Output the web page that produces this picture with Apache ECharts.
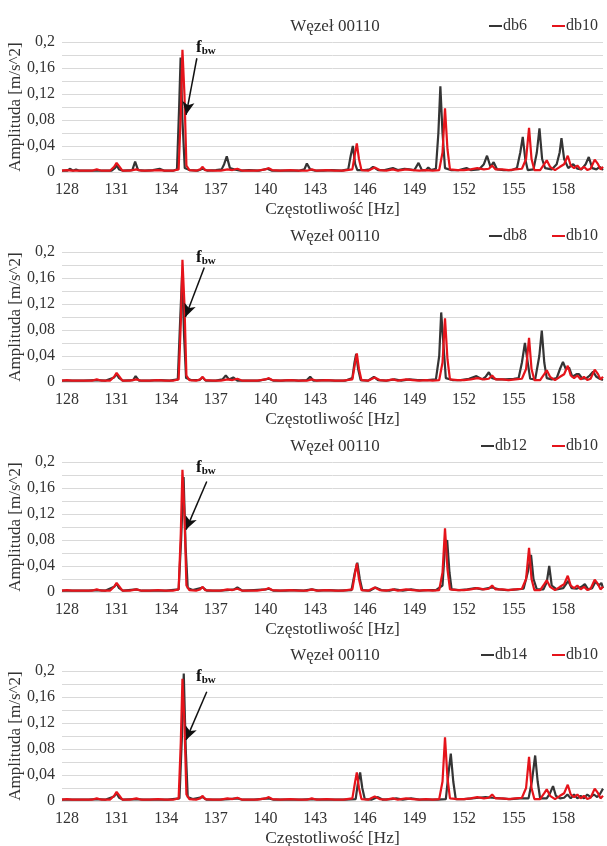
<!DOCTYPE html>
<html>
<head>
<meta charset="utf-8">
<script src="https://cdn.jsdelivr.net/npm/echarts@6/dist/echarts.min.js"></script>
<style>
  html, body { margin: 0; padding: 0; background: #fff; }
  #chart { width: 607px; height: 846px; }
</style>
</head>
<body>
<div id="chart"></div>
<script>
// widmo amplitudy, wezel 00110 - pary [czestotliwosc Hz, amplituda m/s^2]
var db10 = [[127.7,0.002],[128.0,0.003],[128.3,0.002],[128.7,0.002],[129.1,0.002],[129.5,0.002],[129.8,0.004],[130.1,0.002],[130.6,0.002],[130.85,0.008],[131.0,0.014],[131.15,0.009],[131.35,0.002],[131.8,0.002],[132.2,0.004],[132.5,0.002],[133.0,0.002],[133.5,0.003],[133.9,0.002],[134.4,0.002],[134.75,0.004],[134.88,0.09],[134.98,0.188],[135.1,0.12],[135.22,0.01],[135.4,0.003],[135.8,0.002],[136.05,0.004],[136.2,0.008],[136.35,0.003],[136.8,0.002],[137.3,0.002],[137.7,0.004],[138.0,0.003],[138.3,0.005],[138.6,0.002],[139.0,0.002],[139.5,0.002],[140.0,0.004],[140.2,0.006],[140.4,0.003],[140.9,0.002],[141.5,0.003],[142.0,0.002],[142.5,0.002],[142.8,0.004],[143.1,0.002],[143.7,0.003],[144.2,0.002],[144.7,0.002],[145.25,0.004],[145.42,0.03],[145.52,0.044],[145.65,0.02],[145.8,0.003],[146.2,0.002],[146.6,0.007],[146.9,0.003],[147.3,0.002],[147.7,0.004],[148.0,0.002],[148.5,0.004],[148.9,0.003],[149.3,0.002],[149.7,0.003],[150.1,0.002],[150.5,0.003],[150.7,0.03],[150.85,0.098],[151.0,0.035],[151.15,0.004],[151.6,0.003],[152.0,0.003],[152.4,0.004],[152.8,0.006],[153.2,0.004],[153.5,0.005],[153.7,0.01],[153.9,0.004],[154.3,0.004],[154.7,0.003],[155.1,0.004],[155.5,0.005],[155.75,0.02],[155.93,0.068],[156.08,0.02],[156.25,0.003],[156.6,0.003],[156.85,0.012],[157.0,0.018],[157.2,0.008],[157.5,0.003],[157.8,0.008],[158.05,0.012],[158.27,0.025],[158.45,0.01],[158.65,0.006],[158.85,0.01],[159.05,0.004],[159.25,0.008],[159.45,0.003],[159.65,0.005],[159.9,0.019],[160.1,0.012],[160.25,0.004],[160.4,0.008]];

var db6 = [[127.7,0.002],[128.0,0.002],[128.2,0.005],[128.35,0.002],[128.55,0.004],[128.75,0.002],[129.2,0.002],[129.7,0.002],[130.2,0.002],[130.7,0.002],[130.9,0.006],[131.0,0.01],[131.15,0.004],[131.4,0.002],[131.95,0.003],[132.12,0.016],[132.3,0.003],[132.7,0.002],[133.2,0.003],[133.6,0.005],[133.9,0.002],[134.4,0.002],[134.65,0.004],[134.78,0.1],[134.87,0.176],[134.98,0.08],[135.12,0.006],[135.4,0.003],[135.9,0.002],[136.2,0.005],[136.5,0.002],[137.0,0.003],[137.35,0.004],[137.5,0.012],[137.66,0.024],[137.85,0.006],[138.1,0.004],[138.5,0.002],[139.0,0.003],[139.6,0.002],[140.1,0.005],[140.4,0.002],[140.9,0.002],[141.5,0.002],[142.0,0.002],[142.35,0.004],[142.5,0.013],[142.7,0.004],[143.0,0.002],[143.5,0.002],[144.0,0.003],[144.6,0.002],[145.0,0.004],[145.15,0.025],[145.28,0.04],[145.42,0.012],[145.55,0.003],[146.0,0.003],[146.3,0.004],[146.5,0.008],[146.8,0.003],[147.2,0.003],[147.7,0.006],[148.0,0.003],[148.4,0.005],[148.7,0.004],[149.0,0.003],[149.25,0.014],[149.45,0.003],[149.7,0.003],[149.84,0.007],[150.0,0.003],[150.3,0.005],[150.45,0.06],[150.57,0.132],[150.7,0.06],[150.85,0.006],[151.2,0.003],[151.7,0.003],[152.15,0.006],[152.4,0.003],[152.9,0.004],[153.2,0.012],[153.39,0.025],[153.6,0.008],[153.79,0.015],[154.0,0.004],[154.4,0.003],[154.9,0.003],[155.2,0.006],[155.4,0.03],[155.55,0.054],[155.7,0.02],[155.85,0.003],[156.2,0.004],[156.4,0.03],[156.56,0.067],[156.72,0.02],[156.9,0.006],[157.3,0.004],[157.6,0.012],[157.78,0.03],[157.89,0.052],[158.05,0.02],[158.3,0.006],[158.6,0.012],[158.85,0.005],[159.1,0.004],[159.35,0.012],[159.54,0.023],[159.75,0.006],[160.0,0.004],[160.2,0.008],[160.4,0.003]];

var db8 = [[127.7,0.002],[128.3,0.002],[129.0,0.002],[129.8,0.003],[130.3,0.002],[130.85,0.007],[131.0,0.012],[131.15,0.006],[131.4,0.002],[132.0,0.003],[132.15,0.009],[132.35,0.002],[133.0,0.002],[133.6,0.003],[134.2,0.002],[134.7,0.004],[134.85,0.1],[134.96,0.165],[135.08,0.07],[135.2,0.006],[135.5,0.003],[136.0,0.003],[136.2,0.007],[136.4,0.002],[137.0,0.002],[137.4,0.004],[137.6,0.01],[137.8,0.004],[138.05,0.007],[138.3,0.002],[139.0,0.002],[139.6,0.002],[140.2,0.005],[140.5,0.002],[141.0,0.002],[141.5,0.003],[142.0,0.002],[142.5,0.003],[142.7,0.008],[142.9,0.002],[143.5,0.003],[144.2,0.002],[144.8,0.002],[145.25,0.006],[145.38,0.03],[145.48,0.043],[145.6,0.02],[145.75,0.003],[146.2,0.002],[146.55,0.008],[146.8,0.003],[147.3,0.002],[147.8,0.004],[148.2,0.002],[148.7,0.004],[149.2,0.003],[149.8,0.003],[150.3,0.004],[150.5,0.04],[150.62,0.107],[150.75,0.06],[150.9,0.006],[151.3,0.003],[151.8,0.003],[152.3,0.005],[152.75,0.009],[153.1,0.004],[153.3,0.008],[153.5,0.015],[153.7,0.006],[154.0,0.004],[154.5,0.004],[155.0,0.005],[155.3,0.006],[155.5,0.03],[155.68,0.06],[155.85,0.03],[156.0,0.005],[156.3,0.004],[156.55,0.04],[156.7,0.079],[156.85,0.03],[157.0,0.006],[157.3,0.004],[157.6,0.006],[157.8,0.02],[157.98,0.031],[158.15,0.02],[158.35,0.022],[158.55,0.008],[158.8,0.012],[158.95,0.012],[159.15,0.005],[159.4,0.006],[159.6,0.01],[159.8,0.016],[160.0,0.008],[160.2,0.005],[160.4,0.003]];

var db12 = [[127.7,0.002],[128.5,0.002],[129.3,0.002],[129.8,0.003],[130.3,0.002],[130.85,0.008],[131.0,0.013],[131.15,0.006],[131.4,0.002],[132.2,0.004],[132.5,0.002],[133.3,0.002],[134.0,0.002],[134.75,0.004],[134.9,0.08],[135.05,0.177],[135.17,0.07],[135.3,0.006],[135.6,0.003],[136.2,0.007],[136.45,0.002],[137.2,0.002],[137.7,0.003],[138.1,0.004],[138.3,0.007],[138.6,0.002],[139.3,0.003],[140.0,0.004],[140.2,0.005],[140.5,0.002],[141.2,0.002],[141.7,0.003],[142.3,0.002],[142.8,0.004],[143.2,0.002],[143.8,0.003],[144.4,0.002],[145.2,0.003],[145.4,0.03],[145.55,0.045],[145.7,0.02],[145.85,0.003],[146.3,0.002],[146.65,0.007],[147.0,0.003],[147.5,0.002],[147.8,0.004],[148.3,0.002],[148.8,0.004],[149.3,0.002],[149.8,0.003],[150.3,0.003],[150.7,0.01],[150.85,0.07],[150.98,0.08],[151.12,0.03],[151.25,0.004],[151.7,0.003],[152.2,0.004],[152.7,0.006],[153.1,0.004],[153.7,0.007],[154.1,0.004],[154.6,0.003],[155.2,0.004],[155.6,0.005],[155.85,0.03],[156.05,0.057],[156.2,0.02],[156.4,0.004],[156.8,0.004],[157.0,0.015],[157.15,0.04],[157.3,0.01],[157.6,0.004],[158.0,0.006],[158.3,0.017],[158.5,0.006],[158.8,0.005],[159.1,0.008],[159.3,0.012],[159.5,0.004],[159.75,0.006],[159.95,0.016],[160.15,0.01],[160.3,0.014],[160.4,0.006]];

var db14 = [[127.7,0.002],[128.5,0.002],[129.3,0.002],[129.8,0.003],[130.3,0.002],[130.85,0.007],[131.0,0.012],[131.15,0.005],[131.4,0.002],[132.2,0.003],[132.6,0.002],[133.4,0.002],[134.1,0.002],[134.8,0.004],[134.95,0.1],[135.06,0.196],[135.18,0.08],[135.3,0.006],[135.6,0.003],[136.2,0.006],[136.45,0.002],[137.2,0.002],[137.8,0.003],[138.3,0.004],[138.6,0.002],[139.3,0.002],[140.2,0.004],[140.5,0.002],[141.3,0.002],[142.2,0.002],[142.8,0.003],[143.3,0.002],[144.0,0.002],[144.8,0.002],[145.45,0.003],[145.6,0.03],[145.72,0.044],[145.85,0.02],[146.0,0.003],[146.4,0.002],[146.8,0.006],[147.1,0.002],[147.6,0.003],[147.9,0.004],[148.3,0.002],[148.8,0.004],[149.3,0.002],[149.8,0.002],[150.4,0.002],[150.9,0.003],[151.05,0.04],[151.2,0.073],[151.35,0.03],[151.5,0.003],[152.0,0.003],[152.5,0.004],[152.9,0.005],[153.3,0.006],[153.7,0.005],[154.2,0.004],[154.8,0.003],[155.4,0.004],[155.9,0.004],[156.1,0.03],[156.3,0.07],[156.45,0.03],[156.6,0.004],[157.0,0.004],[157.2,0.012],[157.38,0.023],[157.55,0.008],[157.8,0.004],[158.05,0.005],[158.25,0.01],[158.45,0.004],[158.65,0.01],[158.85,0.004],[159.05,0.008],[159.25,0.004],[159.45,0.01],[159.65,0.006],[159.85,0.01],[160.05,0.006],[160.2,0.01],[160.4,0.019]];

var xTicks = [128, 131, 134, 137, 140, 143, 146, 149, 152, 155, 158];
var panelNames = ['db6', 'db8', 'db12', 'db14'];
var panelData = [db6, db8, db12, db14];
// strzalka f_bw: poczatek i koniec [Hz, amplituda]
var arrowFrom = [[135.85, 0.175], [136.3, 0.176], [136.45, 0.17], [136.45, 0.168]];
var arrowTo = [[135.2, 0.088], [135.16, 0.1], [135.2, 0.096], [135.2, 0.094]];

var FONT = '"Liberation Serif", "DejaVu Serif", serif';
var TXT = '#333';
var RED = '#e5141b';
var BLACK = '#353535';

var gridTops = [42, 252, 462, 671];
var plotH = 130;

var chart = echarts.init(document.getElementById('chart'));

var grids = [], xAxes = [], yAxes = [], titles = [], legends = [], series = [];

for (var i = 0; i < 4; i++) {
  var gTop = gridTops[i];
  // outerBoundsMode none - bez automatycznego zwezania siatki (v6)
  grids.push({ left: 62, right: 4, top: gTop, height: plotH, outerBoundsMode: 'none' });
  titles.push({
    text: 'Węzeł 00110', left: 335, top: gTop - 24, textAlign: 'center', padding: 0,
    textStyle: { fontFamily: FONT, fontSize: 17, fontWeight: 'normal', color: TXT }
  });
  legends.push({
    data: [panelNames[i], 'db10'], right: 9, top: gTop - 24, padding: 0,
    itemWidth: 13, itemHeight: 2, itemGap: 24,
    textStyle: { fontFamily: FONT, fontSize: 16, color: TXT, padding: [0, 0, 0, -4] }
  });
  xAxes.push({
    gridIndex: i, type: 'value', min: 127.7, max: 160.4,
    name: 'Częstotliwość [Hz]', nameLocation: 'middle', nameGap: 28,
    nameTextStyle: { fontFamily: FONT, fontSize: 17.5, color: TXT },
    axisLine: { show: true, lineStyle: { color: '#d9d9d9', width: 1 } },
    axisTick: { show: false },
    splitLine: { show: false },
    axisLabel: { customValues: xTicks, fontFamily: FONT, fontSize: 16, color: TXT, margin: 10 }
  });
  yAxes.push({
    gridIndex: i, type: 'value', min: 0, max: 0.2, interval: 0.04,
    name: 'Amplituda [m/s^2]', nameLocation: 'middle', nameGap: 38, nameMoveOverlap: false,
    nameTextStyle: { fontFamily: FONT, fontSize: 17, color: TXT },
    axisLine: { show: false }, axisTick: { show: false },
    splitLine: { show: true, lineStyle: { color: '#d9d9d9', width: 1 } },
    minorTick: { show: false, splitNumber: 2 },
    minorSplitLine: { show: true, lineStyle: { color: '#d9d9d9', width: 1 } },
    axisLabel: {
      fontFamily: FONT, fontSize: 16, color: TXT, margin: 7,
      formatter: function (v) { return String(+v.toFixed(2)).replace('.', ','); }
    }
  });
  series.push({
    name: panelNames[i], type: 'line', xAxisIndex: i, yAxisIndex: i,
    data: panelData[i], symbol: 'none', z: 2,
    lineStyle: { color: BLACK, width: 2.2 }, itemStyle: { color: BLACK }
  });
  series.push({
    name: 'db10', type: 'line', xAxisIndex: i, yAxisIndex: i,
    data: db10, symbol: 'none', z: 3,
    lineStyle: { color: RED, width: 2.2 }, itemStyle: { color: RED },
    markLine: {
      silent: true, symbol: ['none', 'arrow'], symbolSize: [9, 13],
      lineStyle: { color: '#111', width: 1.5, type: 'solid' },
      label: { show: false },
      data: [[{ coord: arrowFrom[i] }, { coord: arrowTo[i] }]]
    },
    markPoint: {
      silent: true, symbol: 'circle', symbolSize: 0,
      label: {
        show: true, position: 'right', distance: 0,
        formatter: '{f|f}{s|bw}',
        rich: {
          f: { fontFamily: FONT, fontSize: 17, fontWeight: 'bold', color: '#111', lineHeight: 18 },
          s: { fontFamily: FONT, fontSize: 11, fontWeight: 'bold', color: '#111', lineHeight: 18, verticalAlign: 'bottom' }
        }
      },
      data: [{ coord: [135.8, 0.192] }]
    }
  });
}

chart.setOption({
  animation: false,
  backgroundColor: '#fff',
  title: titles,
  legend: legends,
  grid: grids,
  xAxis: xAxes,
  yAxis: yAxes,
  series: series
});
</script>
</body>
</html>
